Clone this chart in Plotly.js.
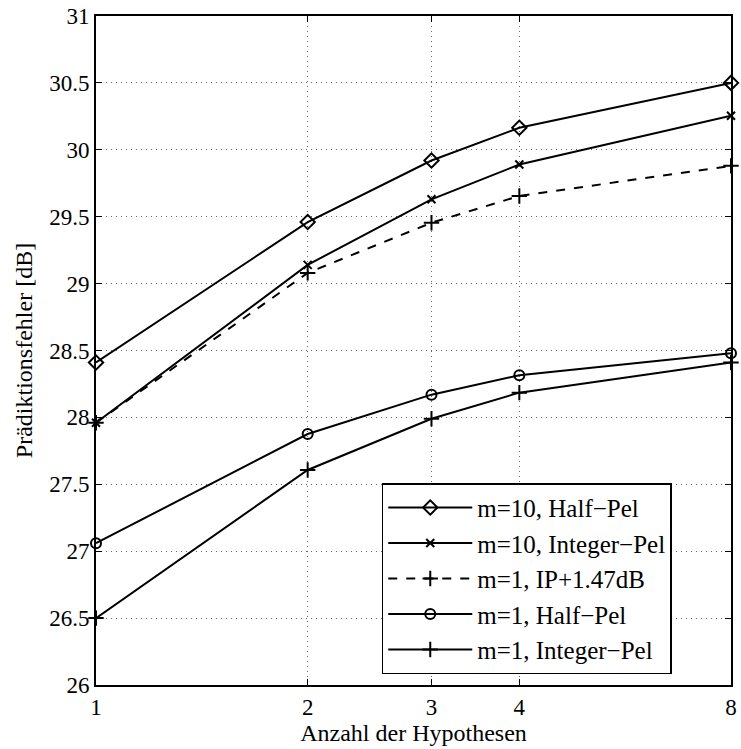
<!DOCTYPE html>
<html>
<head>
<meta charset="utf-8">
<script src="https://cdn.plot.ly/plotly-3.0.1.min.js"></script>
<style>html,body{margin:0;padding:0;background:#fff;}#chart{width:741px;height:749px;}</style>
</head>
<body>
<div id="chart"></div>
<script>
const hypotheses = [1, 2, 3, 4, 8];
const xTickLabels = ['1', '2', '3', '4', '8'];
const yTickValues = [26, 26.5, 27, 27.5, 28, 28.5, 29, 29.5, 30, 30.5, 31];
const yTickLabels = ['26', '26.5', '27', '27.5', '28', '28.5', '29', '29.5', '30', '30.5', '31'];
const m10Half = [28.41, 29.46, 29.92, 30.165, 30.50];
const m10Int = [27.96, 29.14, 29.63, 29.89, 30.255];
const m1IP147 = [27.96, 29.08, 29.455, 29.655, 29.88];
const m1Half = [27.06, 27.876, 28.17, 28.315, 28.48];
const m1Int = [26.50, 27.607, 27.99, 28.185, 28.41];
const seriesNames = ['m=10, Half\u2212Pel', 'm=10, Integer\u2212Pel', 'm=1, IP+1.47dB', 'm=1, Half\u2212Pel', 'm=1, Integer\u2212Pel'];

const FONT = "'Liberation Serif', 'Times New Roman', Times, serif";
function tr(y, name, symbol, dash, msize) {
  return {
    x: hypotheses, y: y, name: name, type: 'scatter', mode: 'lines+markers',
    line: {color: '#000', width: 2, dash: dash},
    marker: {symbol: symbol, size: msize, color: '#000', line: {color: '#000', width: 2}},
    cliponaxis: false
  };
}
const data = [
  tr(m10Half, seriesNames[0], 'diamond-open', 'solid', 11),
  tr(m10Int, seriesNames[1], 'x-thin-open', 'solid', 8),
  tr(m1IP147, seriesNames[2], 'cross-thin-open', 'dash', 11),
  tr(m1Half, seriesNames[3], 'circle-open', 'solid', 10),
  tr(m1Int, seriesNames[4], 'cross-thin-open', 'solid', 11)
];
const layout = {
  width: 741, height: 749,
  margin: {l: 96, r: 10, t: 16, b: 64},
  paper_bgcolor: '#fff', plot_bgcolor: '#fff',
  font: {family: FONT, size: 22, color: '#000'},
  showlegend: true,
  legend: {
    x: 0.45, y: 0.3015, xanchor: 'left', yanchor: 'top',
    bordercolor: '#000', borderwidth: 1.5, bgcolor: '#fff',
    font: {family: FONT, size: 25, color: '#000'},
    tracegroupgap: 0, itemwidth: 84
  },
  xaxis: {
    type: 'log', range: [0, Math.log10(8)],
    tickmode: 'array', tickvals: hypotheses, ticktext: xTickLabels,
    ticks: 'inside', ticklen: 6, tickwidth: 1, tickcolor: '#000',
    showline: true, linecolor: '#000', linewidth: 2, mirror: 'ticks',
    showgrid: true, gridcolor: '#666', griddash: '1px,4px', gridwidth: 1,
    zeroline: false,
    tickfont: {family: FONT, size: 23, color: '#000'},
    title: {text: 'Anzahl der Hypothesen', font: {family: FONT, size: 24, color: '#000'}, standoff: 0}
  },
  yaxis: {
    range: [26, 31], tickmode: 'array',
    tickvals: yTickValues, ticktext: yTickLabels,
    ticks: 'inside', ticklen: 6, tickwidth: 1, tickcolor: '#000',
    showline: true, linecolor: '#000', linewidth: 2, mirror: 'ticks',
    showgrid: true, gridcolor: '#666', griddash: '1px,4px', gridwidth: 1,
    zeroline: false,
    tickfont: {family: FONT, size: 23, color: '#000'},
    title: {text: 'Prädiktionsfehler [dB]', font: {family: FONT, size: 24, color: '#000'}, standoff: 10}
  }
};
Plotly.newPlot('chart', data, layout, {displayModeBar: false, staticPlot: true});
</script>
</body>
</html>
